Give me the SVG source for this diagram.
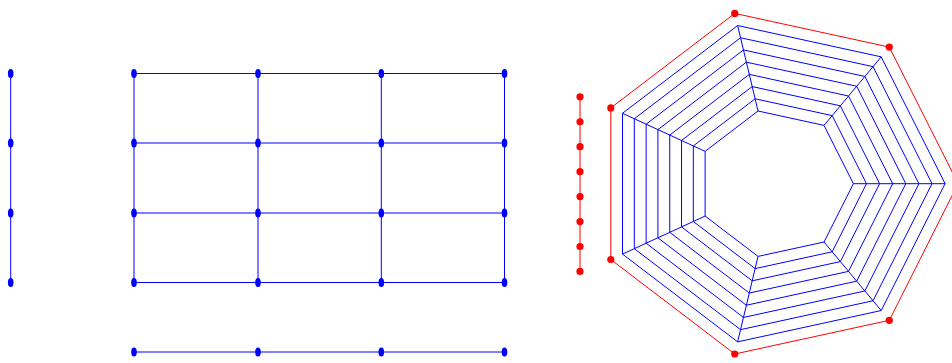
<svg xmlns="http://www.w3.org/2000/svg" width="952" height="363" viewBox="0 0 952 363">
<style>
.b{stroke:#0000ff;stroke-width:1;fill:none}
.r{stroke:#ff0000;stroke-width:1;fill:none}
.bd{fill:#0000ff}
.rd{fill:#ff0000}
</style>
<rect width="952" height="363" fill="#ffffff"/>
<g id="connectors">
<!-- left path -->
<line class="b" x1="10.7" y1="73.5" x2="10.7" y2="282.5"/>
<!-- grid -->
<line class="b" x1="134" y1="73.5" x2="504.5" y2="73.5"/>
<line class="b" x1="134" y1="143" x2="504.5" y2="143"/>
<line class="b" x1="134" y1="213" x2="504.5" y2="213"/>
<line class="b" x1="134" y1="282.5" x2="504.5" y2="282.5"/>
<line class="b" x1="134" y1="73.5" x2="134" y2="282.5"/>
<line class="b" x1="258" y1="73.5" x2="258" y2="282.5"/>
<line class="b" x1="381.3" y1="73.5" x2="381.3" y2="282.5"/>
<line class="b" x1="504.5" y1="73.5" x2="504.5" y2="282.5"/>
<!-- bottom path -->
<line class="b" x1="134" y1="352" x2="504.5" y2="352"/>
<!-- red path -->
<line class="r" x1="580" y1="96.8" x2="580" y2="271.5"/>
<!-- red cycle -->
<polygon class="r" points="958.1,183.7 889.3,47.1 734.75,13.4 610.8,107.9 610.8,259.5 734.75,354 889.3,320.3"/>
<!-- ring mesh -->
<polygon class="b" points="945.1,183.7 881.21,56.86 737.64,25.53 622.51,113.31 622.51,254.09 737.64,341.87 881.21,310.54"/>
<polygon class="b" points="932,183.7 873.04,66.65 740.55,37.74 634.31,118.74 634.31,248.66 740.55,329.66 873.04,300.75"/>
<polygon class="b" points="918.9,183.7 864.87,76.44 743.47,49.95 646.11,124.18 646.11,243.22 743.47,317.45 864.87,290.96"/>
<polygon class="b" points="905.8,183.7 856.7,86.24 746.38,62.16 657.91,129.61 657.91,237.79 746.38,305.24 856.7,281.16"/>
<polygon class="b" points="892.7,183.7 848.54,96.03 749.3,74.37 669.72,135.05 669.72,232.35 749.3,293.03 848.54,271.37"/>
<polygon class="b" points="879.6,183.7 840.37,105.82 752.21,86.58 681.52,140.48 681.52,226.92 752.21,280.82 840.37,261.58"/>
<polygon class="b" points="866.5,183.7 832.2,115.61 755.13,98.79 693.32,145.91 693.32,221.49 755.13,268.61 832.2,251.79"/>
<polygon class="b" points="853.4,183.7 824.03,125.4 758.04,111 705.12,151.35 705.12,216.05 758.04,256.4 824.03,242"/>
<line class="b" x1="945.1" y1="183.7" x2="853.4" y2="183.7"/>
<line class="b" x1="881.21" y1="56.86" x2="824.03" y2="125.4"/>
<line class="b" x1="737.64" y1="25.53" x2="758.04" y2="111"/>
<line class="b" x1="622.51" y1="113.31" x2="705.12" y2="151.35"/>
<line class="b" x1="622.51" y1="254.09" x2="705.12" y2="216.05"/>
<line class="b" x1="737.64" y1="341.87" x2="758.04" y2="256.4"/>
<line class="b" x1="881.21" y1="310.54" x2="824.03" y2="242"/>
</g>
<g id="left-path-nodes">
<ellipse class="bd" cx="10.7" cy="73.5" rx="2.8" ry="4.5"/>
<ellipse class="bd" cx="10.7" cy="143" rx="2.8" ry="4.5"/>
<ellipse class="bd" cx="10.7" cy="213" rx="2.8" ry="4.5"/>
<ellipse class="bd" cx="10.7" cy="282.5" rx="2.8" ry="4.5"/>
</g>
<g id="grid-nodes">
<ellipse class="bd" cx="134" cy="73.5" rx="2.8" ry="4.5"/>
<ellipse class="bd" cx="258" cy="73.5" rx="2.8" ry="4.5"/>
<ellipse class="bd" cx="381.3" cy="73.5" rx="2.8" ry="4.5"/>
<ellipse class="bd" cx="504.5" cy="73.5" rx="2.8" ry="4.5"/>
<ellipse class="bd" cx="134" cy="143" rx="2.8" ry="4.5"/>
<ellipse class="bd" cx="258" cy="143" rx="2.8" ry="4.5"/>
<ellipse class="bd" cx="381.3" cy="143" rx="2.8" ry="4.5"/>
<ellipse class="bd" cx="504.5" cy="143" rx="2.8" ry="4.5"/>
<ellipse class="bd" cx="134" cy="213" rx="2.8" ry="4.5"/>
<ellipse class="bd" cx="258" cy="213" rx="2.8" ry="4.5"/>
<ellipse class="bd" cx="381.3" cy="213" rx="2.8" ry="4.5"/>
<ellipse class="bd" cx="504.5" cy="213" rx="2.8" ry="4.5"/>
<ellipse class="bd" cx="134" cy="282.5" rx="2.8" ry="4.5"/>
<ellipse class="bd" cx="258" cy="282.5" rx="2.8" ry="4.5"/>
<ellipse class="bd" cx="381.3" cy="282.5" rx="2.8" ry="4.5"/>
<ellipse class="bd" cx="504.5" cy="282.5" rx="2.8" ry="4.5"/>
</g>
<g id="bottom-path-nodes">
<ellipse class="bd" cx="134" cy="352" rx="2.8" ry="4.5"/>
<ellipse class="bd" cx="258" cy="352" rx="2.8" ry="4.5"/>
<ellipse class="bd" cx="381.3" cy="352" rx="2.8" ry="4.5"/>
<ellipse class="bd" cx="504.5" cy="352" rx="2.8" ry="4.5"/>
</g>
<g id="red-path-nodes">
<circle class="rd" cx="580" cy="96.8" r="3.6"/>
<circle class="rd" cx="580" cy="121.75" r="3.6"/>
<circle class="rd" cx="580" cy="146.7" r="3.6"/>
<circle class="rd" cx="580" cy="171.65" r="3.6"/>
<circle class="rd" cx="580" cy="196.6" r="3.6"/>
<circle class="rd" cx="580" cy="221.55" r="3.6"/>
<circle class="rd" cx="580" cy="246.5" r="3.6"/>
<circle class="rd" cx="580" cy="271.45" r="3.6"/>
</g>
<g id="red-cycle-nodes">
<circle class="rd" cx="958.1" cy="183.7" r="3.6"/>
<circle class="rd" cx="889.3" cy="47.1" r="3.6"/>
<circle class="rd" cx="734.75" cy="13.4" r="3.6"/>
<circle class="rd" cx="610.8" cy="107.9" r="3.6"/>
<circle class="rd" cx="610.8" cy="259.5" r="3.6"/>
<circle class="rd" cx="734.75" cy="354" r="3.6"/>
<circle class="rd" cx="889.3" cy="320.3" r="3.6"/>
</g>
</svg>
